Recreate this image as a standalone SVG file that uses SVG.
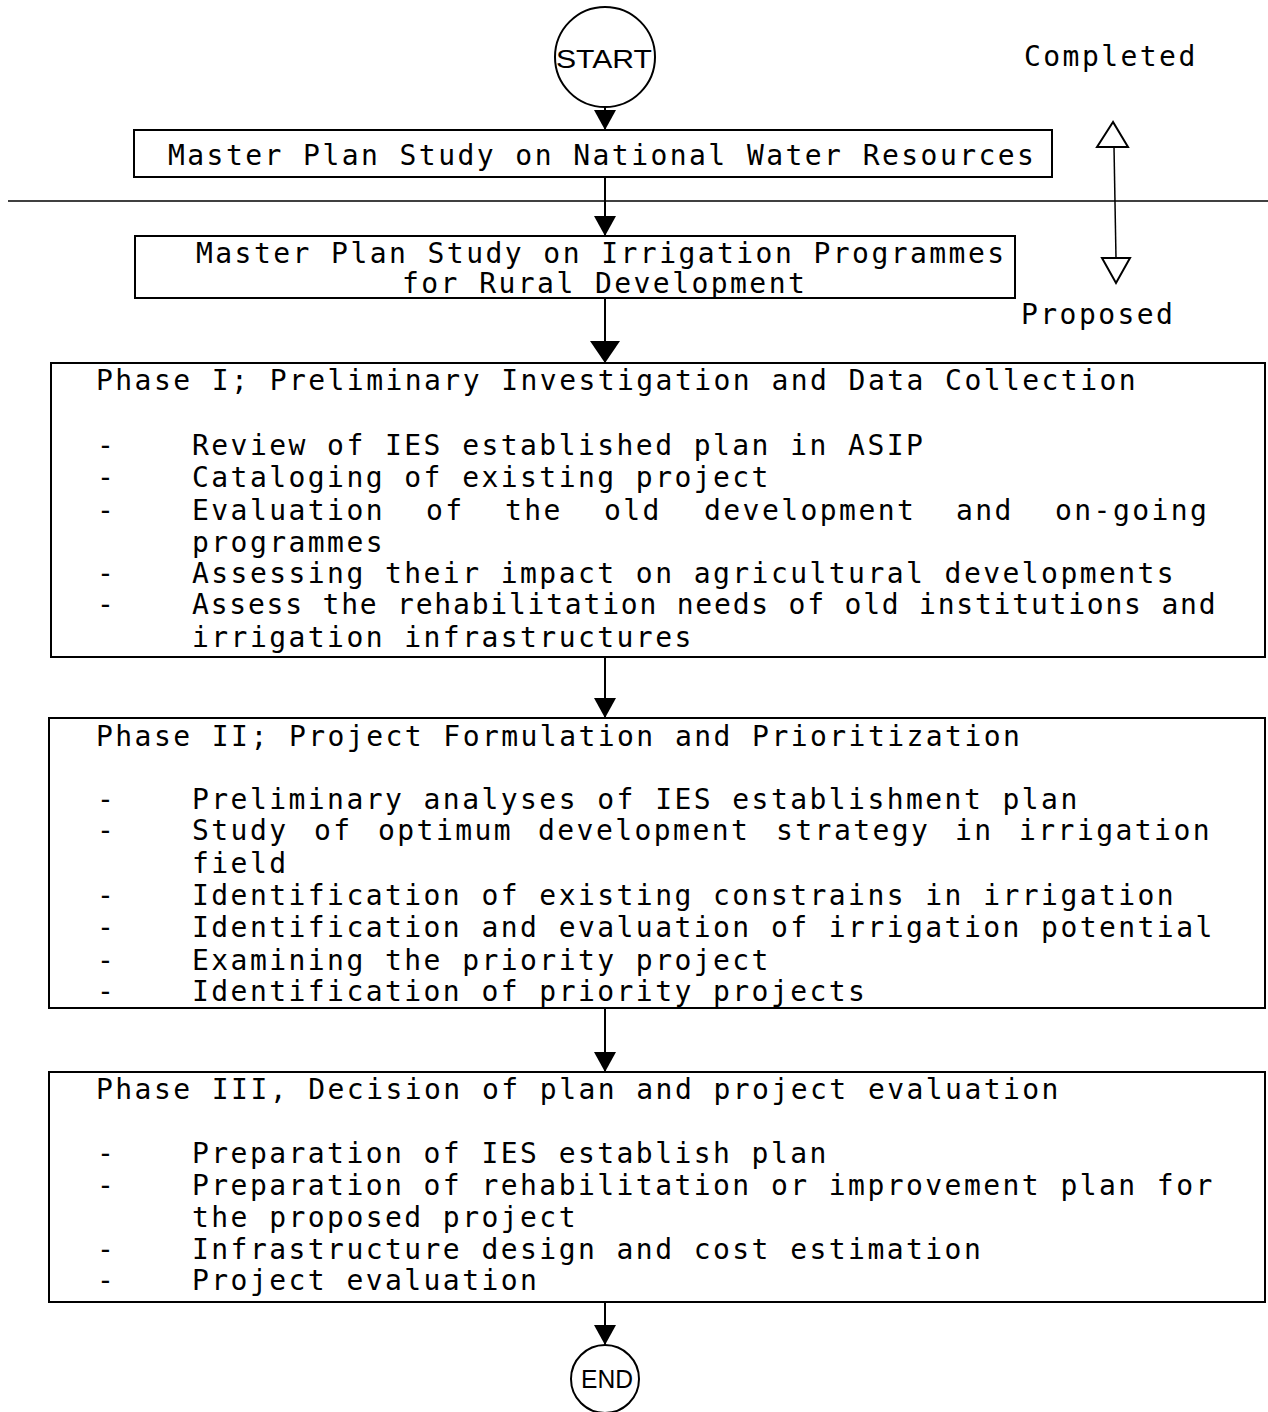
<svg xmlns="http://www.w3.org/2000/svg" width="1268" height="1412" viewBox="0 0 1268 1412">
<style>
.t{font-family:"DejaVu Sans Mono","Liberation Mono",monospace;font-size:28px;letter-spacing:2.44px;fill:#000}
.c{font-family:"Liberation Sans",Arial,sans-serif;font-size:26px;fill:#000}
.box{fill:#fff;stroke:#000;stroke-width:2}
.con{stroke:#000;stroke-width:2;fill:none}
</style>
<defs>
<marker id="ah" viewBox="0 0 20 22" refX="20" refY="11" markerWidth="20" markerHeight="22" markerUnits="userSpaceOnUse" orient="auto">
<path d="M0,0 L20,11 L0,22 z" fill="#000"/>
</marker>
<marker id="ahb" viewBox="0 0 22 30" refX="22" refY="15" markerWidth="22" markerHeight="30" markerUnits="userSpaceOnUse" orient="auto">
<path d="M0,0 L22,15 L0,30 z" fill="#000"/>
</marker>
</defs>
<rect width="1268" height="1412" fill="#fff"/>

<g id="divider">
<line x1="8" y1="201" x2="1268" y2="201" stroke="#000" stroke-width="1.5"/>
</g>

<g id="legend">
<line x1="1114" y1="147" x2="1116" y2="258" stroke="#000" stroke-width="1.5"/>
<polygon points="1113,122 1097,147 1128,147" fill="#fff" stroke="#000" stroke-width="2"/>
<polygon points="1102,258 1130,258 1116,283" fill="#fff" stroke="#000" stroke-width="2"/>
<text class="t" x="1024" y="66">Completed</text>
<text class="t" x="1021" y="324">Proposed</text>
</g>

<g id="start">
<circle cx="605" cy="57" r="50" fill="#fff" stroke="#000" stroke-width="2"/>
<text class="c" x="556" y="68" textLength="96" lengthAdjust="spacingAndGlyphs">START</text>
</g>

<g id="box1">
<rect class="box" x="134" y="130" width="918" height="47"/>
<text class="t" x="168" y="165">Master Plan Study on National Water Resources</text>
</g>

<g id="box2">
<rect class="box" x="135" y="236" width="880" height="62"/>
<text class="t" x="196" y="263">Master Plan Study on Irrigation Programmes</text>
<text class="t" x="402" y="293">for Rural Development</text>
</g>

<g id="phase1">
<rect class="box" x="51" y="363" width="1214" height="294"/>
<text class="t" x="96" y="390">Phase I; Preliminary Investigation and Data Collection</text>
<text class="t" x="97" y="455">-</text><text class="t" x="192" y="455">Review of IES established plan in ASIP</text>
<text class="t" x="97" y="487">-</text><text class="t" x="192" y="487">Cataloging of existing project</text>
<text class="t" x="97" y="520">-</text><text class="t" y="520"><tspan x="192">Evaluation</tspan><tspan x="426">of</tspan><tspan x="505">the</tspan><tspan x="604">old</tspan><tspan x="704">development</tspan><tspan x="956">and</tspan><tspan x="1055">on-going</tspan></text>
<text class="t" x="192" y="552">programmes</text>
<text class="t" x="97" y="583">-</text><text class="t" x="192" y="583">Assessing their impact on agricultural developments</text>
<text class="t" x="97" y="614">-</text><text class="t" x="192" y="614" textLength="1026" lengthAdjust="spacing">Assess the rehabilitation needs of old institutions and</text>
<text class="t" x="192" y="647">irrigation infrastructures</text>
</g>

<g id="phase2">
<rect class="box" x="49" y="718" width="1216" height="290"/>
<text class="t" x="96" y="746">Phase II; Project Formulation and Prioritization</text>
<text class="t" x="97" y="809">-</text><text class="t" x="192" y="809">Preliminary analyses of IES establishment plan</text>
<text class="t" x="97" y="840">-</text><text class="t" y="840"><tspan x="192">Study</tspan><tspan x="314">of</tspan><tspan x="378">optimum</tspan><tspan x="538">development</tspan><tspan x="776">strategy</tspan><tspan x="955">in</tspan><tspan x="1019">irrigation</tspan></text>
<text class="t" x="192" y="873">field</text>
<text class="t" x="97" y="905">-</text><text class="t" x="192" y="905">Identification of existing constrains in irrigation</text>
<text class="t" x="97" y="937">-</text><text class="t" x="192" y="937">Identification and evaluation of irrigation potential</text>
<text class="t" x="97" y="970">-</text><text class="t" x="192" y="970">Examining the priority project</text>
<text class="t" x="97" y="1001">-</text><text class="t" x="192" y="1001">Identification of priority projects</text>
</g>

<g id="phase3">
<rect class="box" x="49" y="1072" width="1216" height="230"/>
<text class="t" x="96" y="1099">Phase III, Decision of plan and project evaluation</text>
<text class="t" x="97" y="1163">-</text><text class="t" x="192" y="1163">Preparation of IES establish plan</text>
<text class="t" x="97" y="1195">-</text><text class="t" x="192" y="1195">Preparation of rehabilitation or improvement plan for</text>
<text class="t" x="192" y="1227">the proposed project</text>
<text class="t" x="97" y="1259">-</text><text class="t" x="192" y="1259">Infrastructure design and cost estimation</text>
<text class="t" x="97" y="1290">-</text><text class="t" x="192" y="1290">Project evaluation</text>
</g>

<g id="end">
<circle cx="605" cy="1379" r="34" fill="#fff" stroke="#000" stroke-width="2"/>
<text class="c" x="581" y="1388" textLength="52" lengthAdjust="spacingAndGlyphs">END</text>
</g>

<g id="connectors">
<line class="con" x1="605" y1="107" x2="605" y2="130" marker-end="url(#ah)"/>
<line class="con" x1="605" y1="177" x2="605" y2="236" marker-end="url(#ah)"/>
<line class="con" x1="605" y1="298" x2="605" y2="363" marker-end="url(#ahb)"/>
<line class="con" x1="605" y1="657" x2="605" y2="718" marker-end="url(#ah)"/>
<line class="con" x1="605" y1="1008" x2="605" y2="1072" marker-end="url(#ah)"/>
<line class="con" x1="605" y1="1302" x2="605" y2="1345" marker-end="url(#ah)"/>
</g>
</svg>
